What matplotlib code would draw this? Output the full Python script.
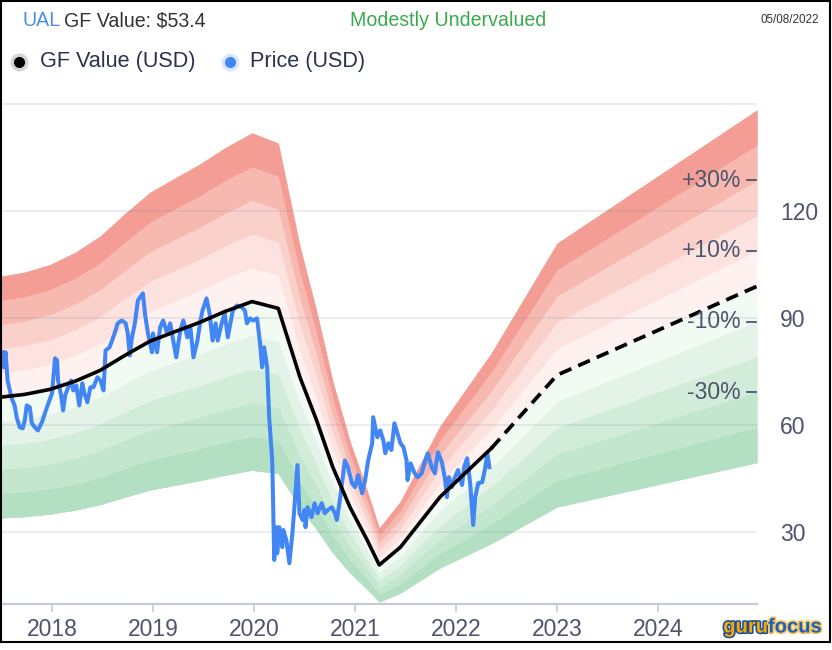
import numpy as np
import matplotlib
matplotlib.use("Agg")
import matplotlib.pyplot as plt
from matplotlib.lines import Line2D
from matplotlib.patches import Rectangle
import matplotlib.patheffects as pe
import matplotlib.transforms as mtransforms

# ---------------- data ----------------
ticker = "UAL"
gf_value_now = 53.4
valuation = "Modestly Undervalued"
date_label = "05/08/2022"

gf_years = [2017.485, 2017.73, 2017.98, 2018.23, 2018.475, 2018.72, 2018.97, 2019.22,
            2019.465, 2019.71, 2019.98, 2020.24, 2020.455, 2020.62, 2020.78, 2020.95,
            2021.12, 2021.24, 2021.45, 2021.84, 2022.35]
gf_values = [67.7, 68.5, 69.9, 72.2, 75.2, 79.4, 83.4, 86.1,
             88.7, 91.7, 94.5, 92.6, 73.3, 61.2, 48.1, 36.9,
             27.7, 20.7, 25.7, 39.7, 53.4]
gf_proj_years = [2022.35, 2023.0, 2024.98]
gf_proj_values = [53.4, 73.9, 98.8]

price_years = [
    2017.51, 2017.52, 2017.54, 2017.56, 2017.60, 2017.63, 2017.65, 2017.68, 2017.71, 2017.73,
    2017.75, 2017.78, 2017.80, 2017.83, 2017.86, 2017.90, 2017.95, 2018.00, 2018.03, 2018.05,
    2018.06, 2018.09, 2018.11, 2018.13, 2018.16, 2018.19, 2018.21, 2018.24, 2018.27, 2018.30,
    2018.32, 2018.35, 2018.38, 2018.41, 2018.45, 2018.48, 2018.51, 2018.53, 2018.57, 2018.62,
    2018.65, 2018.69, 2018.73, 2018.75, 2018.77, 2018.79, 2018.82, 2018.85, 2018.90, 2018.92,
    2018.95, 2018.99, 2019.00, 2019.04, 2019.07, 2019.10, 2019.14, 2019.17, 2019.20, 2019.23,
    2019.27, 2019.30, 2019.34, 2019.37, 2019.40, 2019.44, 2019.47, 2019.49, 2019.53, 2019.56,
    2019.59, 2019.62, 2019.64, 2019.68, 2019.71, 2019.74, 2019.79, 2019.83, 2019.88, 2019.91,
    2019.93, 2019.96, 2019.99, 2020.03, 2020.06, 2020.08, 2020.10, 2020.13, 2020.15, 2020.18,
    2020.19, 2020.20, 2020.22, 2020.23, 2020.25, 2020.28, 2020.29, 2020.32, 2020.35, 2020.38,
    2020.40, 2020.43, 2020.45, 2020.48, 2020.50, 2020.51, 2020.53, 2020.57, 2020.60, 2020.63,
    2020.67, 2020.70, 2020.73, 2020.77, 2020.80, 2020.82, 2020.85, 2020.90, 2020.93, 2020.97,
    2021.00, 2021.03, 2021.07, 2021.10, 2021.13, 2021.17, 2021.18, 2021.22, 2021.25, 2021.28,
    2021.30, 2021.33, 2021.36, 2021.39, 2021.42, 2021.45, 2021.48, 2021.51, 2021.52, 2021.55,
    2021.59, 2021.62, 2021.66, 2021.69, 2021.72, 2021.76, 2021.79, 2021.82, 2021.86, 2021.89,
    2021.91, 2021.93, 2021.96, 2021.99, 2022.02, 2022.06, 2022.08, 2022.11, 2022.14, 2022.17,
    2022.19, 2022.22, 2022.26, 2022.29, 2022.31, 2022.33]
price_values = [
    80.3, 76.1, 80.3, 72.4, 67.4, 65.4, 62.1, 59.3, 59.0, 61.2,
    65.4, 64.9, 60.4, 59.3, 58.4, 60.7, 64.9, 68.8, 78.6, 78.0,
    72.4, 68.2, 64.0, 68.2, 70.5, 72.4, 69.6, 71.0, 65.4, 71.6,
    68.8, 66.3, 70.5, 70.5, 73.3, 72.4, 69.6, 80.8, 81.7, 85.6,
    88.4, 89.2, 88.4, 85.6, 79.4, 84.2, 88.4, 94.8, 96.8, 91.2,
    85.6, 80.3, 85.6, 80.3, 87.3, 89.2, 85.6, 88.4, 83.6, 78.9,
    86.4, 89.2, 84.5, 87.3, 78.9, 83.6, 89.2, 92.0, 95.4, 91.2,
    83.6, 88.4, 83.6, 88.4, 91.2, 84.5, 92.0, 93.4, 92.9, 92.0,
    88.4, 89.8, 89.2, 89.8, 82.8, 76.1, 81.7, 76.1, 62.1, 50.1,
    36.9, 22.1, 31.3, 24.0, 31.3, 25.7, 30.5, 27.7, 21.2, 29.6,
    36.9, 48.7, 35.2, 33.3, 36.1, 31.3, 36.9, 34.1, 38.0, 35.2,
    38.0, 35.2, 36.1, 36.9, 35.2, 33.3, 38.9, 50.0, 48.1, 43.6,
    42.5, 45.9, 40.8, 44.5, 50.0, 54.8, 62.1, 56.5, 58.4, 55.6,
    52.0, 54.8, 52.9, 60.4, 57.6, 54.8, 53.7, 50.0, 44.5, 49.2,
    46.4, 45.3, 46.4, 49.5, 52.0, 48.1, 46.4, 52.3, 49.5, 45.0,
    39.7, 45.3, 42.5, 45.3, 47.3, 43.1, 48.1, 50.6, 43.6, 31.9,
    39.7, 43.6, 43.9, 48.1, 52.0, 48.1]

# band multipliers of GF value
red_inner = [1.0, 1.1, 1.2, 1.3, 1.4]
red_outer = 1.5
red_colors = ["#FEF1EF", "#FCE3E0", "#FAD0CB", "#F7B8B0", "#F39D94"]
green_inner = [1.0, 0.9, 0.8, 0.7, 0.6]
green_outer = 0.5
green_colors = ["#F2FAF4", "#E3F3E8", "#D2ECDA", "#C3E6CE", "#B3DFC2"]

pct_labels = ["+30%", "+10%", "-10%", "-30%"]
pct_factors = [1.3, 1.1, 0.9, 0.7]

x_ticks = [2018, 2019, 2020, 2021, 2022, 2023, 2024]
x_tick_labels = ["2018", "2019", "2020", "2021", "2022", "2023", "2024"]
y_ticks = [30, 60, 90, 120, 150]
y_tick_labels = ["30", "60", "90", "120", ""]
x_range = (2017.485, 2024.98)
y_range = (9.77, 150.2)

# ---------------- style ----------------
FONT = ["Liberation Sans", "DejaVu Sans"]
plt.rcParams["font.family"] = FONT
TICK_C = "#4d546c"
LEG_C = "#2b3250"

W, H = 832, 650
fig = plt.figure(figsize=(W / 100, H / 100), dpi=100)
ax = fig.add_axes([0.0, 1 - 604 / H, 757 / W, (604 - 102.8) / H])

all_years = np.array(gf_years + gf_proj_years[1:])
all_vals = np.array(gf_values + gf_proj_values[1:])

for f, c in zip(red_inner, red_colors):
    ax.fill_between(all_years, all_vals * f, all_vals * red_outer, color=c, lw=0, zorder=1)
for f, c in zip(green_inner, green_colors):
    ax.fill_between(all_years, all_vals * green_outer, all_vals * f, color=c, lw=0, zorder=1)

ax.set_xlim(*x_range)
ax.set_ylim(*y_range)

ax.set_axisbelow(False)
ax.grid(axis="y", color="#7d879e", alpha=0.16, lw=1.3, zorder=2)
ax.grid(axis="x", visible=False)

ax.plot(price_years, price_values, color="#4285F4", lw=2.9, solid_joinstyle="round", zorder=4)
ax.plot(gf_years, gf_values, color="black", lw=2.6, zorder=5, solid_joinstyle="round")
ax.plot(gf_proj_years, gf_proj_values, color="black", lw=2.7, zorder=5,
        linestyle=(0, (3.4, 2.0)))

for s in ["top", "left", "right"]:
    ax.spines[s].set_visible(False)
ax.spines["bottom"].set_color("#c6cad6")
ax.spines["bottom"].set_linewidth(1.6)

ax.set_xticks(x_ticks)
ax.set_xticklabels(x_tick_labels)
ax.tick_params(axis="x", direction="out", length=6, width=1.2, color="#c6cad6",
               labelsize=16.5, labelcolor=TICK_C, pad=4)
ax.yaxis.tick_right()
ax.set_yticks(y_ticks)
ax.set_yticklabels(y_tick_labels)
ax.tick_params(axis="y", length=0, labelsize=16.5, labelcolor=TICK_C, pad=16.5)

# percent labels at right edge
gf_end = gf_proj_values[-1]
trans = mtransforms.blended_transform_factory(ax.transAxes, ax.transData)
for lab, f in zip(pct_labels, pct_factors):
    v = gf_end * f
    ax.annotate(lab, xy=(1, v), xycoords=trans, xytext=(-16, 0), textcoords="offset pixels",
                ha="right", va="center", fontsize=16.5, color=TICK_C, zorder=6)
    ax.add_line(Line2D([1 - 10 / 757, 1 - 1 / 757], [v, v], transform=trans,
                       color=TICK_C, lw=1.3, zorder=6, clip_on=False))

# header
def fx(px):
    return px / W

def fy(py):
    return 1 - py / H

fig.text(fx(22), fy(21), ticker, color="#4a90e2", fontsize=14.1, va="center", ha="left")
fig.text(fx(64), fy(21), "GF Value: $%.1f" % gf_value_now, color="#333333", fontsize=14.1,
         va="center", ha="left")
fig.text(fx(350), fy(21), valuation, color="#3aaa4e", fontsize=14.1, va="center", ha="left")
fig.text(fx(819), fy(20), date_label, color="#333333", fontsize=8.4, va="center", ha="right")

# legend
fig.add_artist(Line2D([fx(19)], [fy(62)], marker="o", markersize=13, color="#d6d6d6",
                      markeredgewidth=0, transform=fig.transFigure))
fig.add_artist(Line2D([fx(19)], [fy(62)], marker="o", markersize=8, color="black",
                      markeredgewidth=0, transform=fig.transFigure))
fig.text(fx(40), fy(62), "GF Value (USD)", color=LEG_C, fontsize=15.6, va="center", ha="left")
fig.add_artist(Line2D([fx(230)], [fy(62)], marker="o", markersize=13, color="#dbe7fc",
                      markeredgewidth=0, transform=fig.transFigure))
fig.add_artist(Line2D([fx(230)], [fy(62)], marker="o", markersize=8, color="#4285F4",
                      markeredgewidth=0, transform=fig.transFigure))
fig.text(fx(250), fy(62), "Price (USD)", color=LEG_C, fontsize=15.6, va="center", ha="left")

# logo
fig.text(fx(768), fy(627), "guru", color="#F6A800", fontsize=14.5, fontweight="bold",
         ha="right", va="center",
         path_effects=[pe.withStroke(linewidth=2.3, foreground="#1b4f9f")])
fig.text(fx(768), fy(627), "focus", color="#1d5fc0", fontsize=14.5, fontweight="bold",
         ha="left", va="center",
         path_effects=[pe.withStroke(linewidth=2.3, foreground="#f7c75a")])

# outer border
fig.add_artist(Rectangle((0.0008, 1 - 642 / H), 829 / W, 642 / H - 0.0012, fill=False,
                         ec="black", lw=1.5, transform=fig.transFigure))

fig.savefig("out.png", dpi=100)
